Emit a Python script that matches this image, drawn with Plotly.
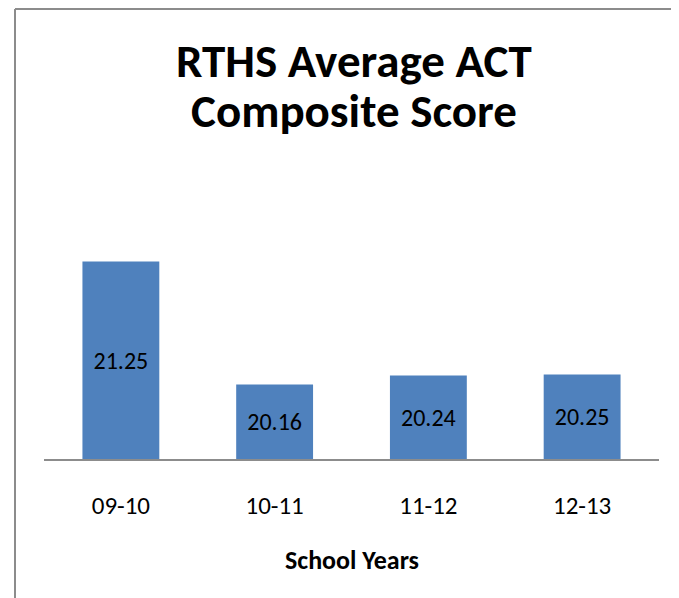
import plotly.graph_objects as go

years = ["09-10", "10-11", "11-12", "12-13"]
scores = [21.25, 20.16, 20.24, 20.25]
labels = ["21.25", "20.16", "20.24", "20.25"]
axis_min = 19.5
axis_max = 22.0

FONT = "Carlito, Lato, sans-serif"

# page offset of the figure inside the browser body (default body margin)
OFF = 8
W, H = 679 - OFF, 598 - OFF
PL, PR, PT, PB = 44, 659, 177, 459  # plot area in page pixels

fig = go.Figure(go.Bar(
    x=years, y=[s - axis_min for s in scores], base=axis_min,
    marker=dict(color="#4F81BD", line=dict(width=0)),
    text=labels, textposition="inside", insidetextanchor="middle",
    textfont=dict(family=FONT, size=24, color="black"),
    textangle=0, hoverinfo="skip",
))

fig.update_layout(
    width=W, height=H,
    margin=dict(l=PL - OFF, r=W - (PR - OFF), t=PT - OFF, b=H - (PB - OFF)),
    paper_bgcolor="white", plot_bgcolor="white",
    bargap=0.5, showlegend=False,
    font=dict(family=FONT, color="black"),
)

def ppx(px):
    return (px - PL) / float(PR - PL)

def ppy(py):
    return (PB - py) / float(PB - PT)

fig.add_annotation(text="<b>RTHS Average ACT</b>", xref="paper", yref="paper",
                   x=ppx(353.5), y=ppy(61), xanchor="center", yanchor="middle",
                   showarrow=False, font=dict(family=FONT, size=47, color="black"))
fig.add_annotation(text="<b>Composite Score</b>", xref="paper", yref="paper",
                   x=ppx(354), y=ppy(111), xanchor="center", yanchor="middle",
                   showarrow=False, font=dict(family=FONT, size=47, color="black"))
fig.add_annotation(text="<b>School Years</b>", xref="paper", yref="paper",
                   x=ppx(352), y=ppy(560), xanchor="center", yanchor="middle",
                   showarrow=False, font=dict(family=FONT, size=26, color="black"))

fig.update_xaxes(
    type="category",
    showline=True, linecolor="#8c8c8c", linewidth=2,
    ticks="outside", ticklen=23, tickcolor="rgba(0,0,0,0)",
    tickfont=dict(family=FONT, size=25, color="black"),
    showgrid=False, fixedrange=True,
)
fig.update_yaxes(range=[axis_min, axis_max], visible=False, showgrid=False, fixedrange=True)

frame = dict(color="#8c8c8c", width=2)
fig.add_shape(type="line", xref="paper", yref="paper",
              x0=ppx(15), x1=ppx(700), y0=ppy(OFF + 1), y1=ppy(OFF + 1), line=frame)
fig.add_shape(type="line", xref="paper", yref="paper",
              x0=ppx(15), x1=ppx(15), y0=ppy(OFF + 1), y1=ppy(620), line=frame)

fig.write_html("out.html")
